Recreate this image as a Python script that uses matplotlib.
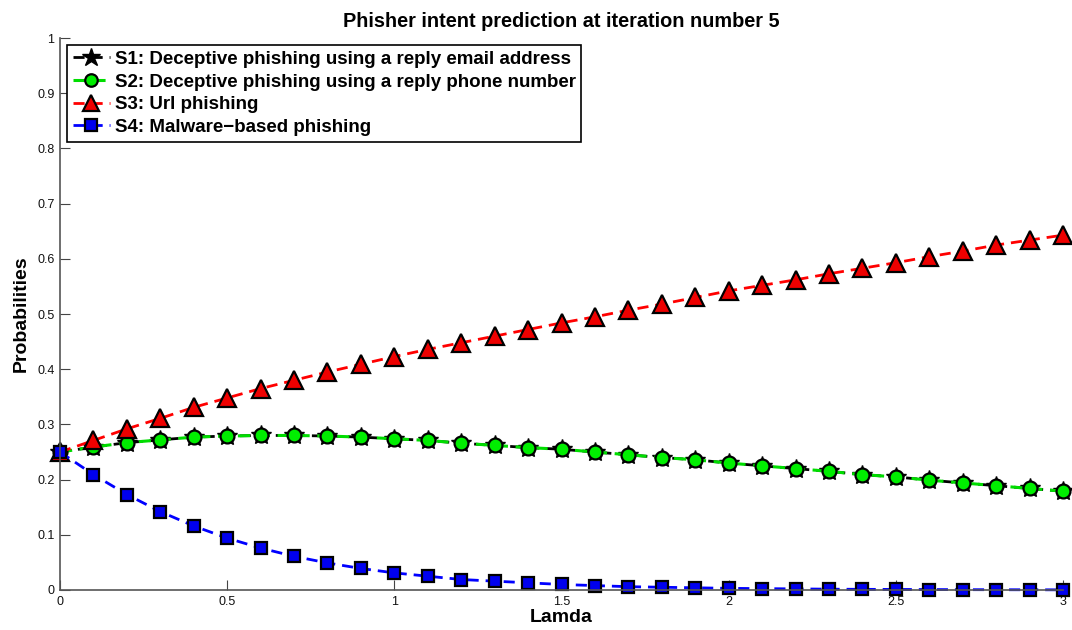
import matplotlib
matplotlib.use('Agg')
import matplotlib.pyplot as plt
import numpy as np

plt.rcParams['font.family'] = ['Liberation Sans', 'DejaVu Sans']

lamda = np.round(np.arange(0, 3.01, 0.1), 1)

s2 = [0.250, 0.259, 0.267, 0.272, 0.277, 0.279, 0.280, 0.280, 0.279, 0.277,
      0.274, 0.271, 0.266, 0.262, 0.258, 0.255, 0.250, 0.245, 0.240, 0.236,
      0.230, 0.225, 0.220, 0.215, 0.209, 0.205, 0.199, 0.194, 0.189, 0.184,
      0.179]
# S1 and S2 coincide
s1 = list(s2)
s3 = [0.250, 0.271, 0.292, 0.311, 0.331, 0.348, 0.365, 0.380, 0.395, 0.409,
      0.423, 0.436, 0.448, 0.460, 0.472, 0.484, 0.495, 0.507, 0.518, 0.530,
      0.542, 0.552, 0.562, 0.573, 0.583, 0.593, 0.604, 0.614, 0.625, 0.634,
      0.643]
s4 = [0.250, 0.209, 0.173, 0.142, 0.116, 0.094, 0.076, 0.061, 0.049, 0.039,
      0.031, 0.025, 0.019, 0.016, 0.013, 0.010, 0.008, 0.006, 0.005, 0.004,
      0.003, 0.0025, 0.002, 0.0015, 0.0012, 0.001, 0.0008, 0.0006, 0.0005,
      0.0004, 0.0003]

labels = [
  'S1: Deceptive phishing using a reply email address',
  'S2: Deceptive phishing using a reply phone number',
  'S3: Url phishing',
  'S4: Malware\u2212based phishing',
]

fig = plt.figure(figsize=(10.72, 6.30), dpi=100)
ax = fig.add_axes([0.056, 0.0635, 0.9356, 0.876])

dash = (4, 2.5)
ax.plot(lamda, s1, color='black', linestyle='--', dashes=dash, linewidth=2,
        marker='*', markersize=15, markerfacecolor='black', markeredgecolor='black',
        clip_on=False, label=labels[0])
ax.plot(lamda, s2, color='#00dd00', linestyle='--', dashes=dash, linewidth=2.2,
        marker='o', markersize=10, markerfacecolor='#00ee00', markeredgecolor='black',
        markeredgewidth=1.6, clip_on=False, label=labels[1])
ax.plot(lamda, s3, color='#ff0000', linestyle='--', dashes=dash, linewidth=2,
        marker='^', markersize=13, markerfacecolor='#ee0000', markeredgecolor='black',
        markeredgewidth=1.6, clip_on=False, label=labels[2])
ax.plot(lamda, s4, color='#0000ff', linestyle='--', dashes=dash, linewidth=2,
        marker='s', markersize=9, markerfacecolor='#0000ee', markeredgecolor='black',
        markeredgewidth=1.6, clip_on=False, label=labels[3])

ax.set_xlim(0, 3)
ax.set_ylim(0, 1)
ax.set_xticks([0, 0.5, 1, 1.5, 2, 2.5, 3])
ax.set_xticklabels(['0', '0.5', '1', '1.5', '2', '2.5', '3'])
ax.set_yticks(np.arange(0, 1.01, 0.1))
ax.set_yticklabels(['0', '0.1', '0.2', '0.3', '0.4', '0.5', '0.6', '0.7', '0.8', '0.9', '1'])
ax.tick_params(direction='in', length=7, width=0.8, labelsize=9, colors='#444444',
               labelcolor='#111111', pad=4)
for side in ('top', 'right'):
  ax.spines[side].set_visible(False)
for side in ('left', 'bottom'):
  ax.spines[side].set_color('#555555')
  ax.spines[side].set_linewidth(1.2)

ax.set_title('Phisher intent prediction at iteration number 5', fontsize=14.3,
             fontweight='bold', pad=8)
ax.set_xlabel('Lamda', fontsize=14, fontweight='bold', labelpad=1)
ax.set_ylabel('Probabilities', fontsize=14, fontweight='bold', labelpad=5)

leg = ax.legend(loc='upper left', bbox_to_anchor=(0.0, 1.0), fancybox=False,
                framealpha=1, edgecolor='black', handlelength=2.0, handletextpad=0.25,
                borderaxespad=0.37, labelspacing=0.3, borderpad=0.3, markerscale=0.9,
                prop={'weight': 'bold', 'size': 13.5})
leg.get_frame().set_linewidth(1.2)

fig.savefig('out.png', dpi=100)
